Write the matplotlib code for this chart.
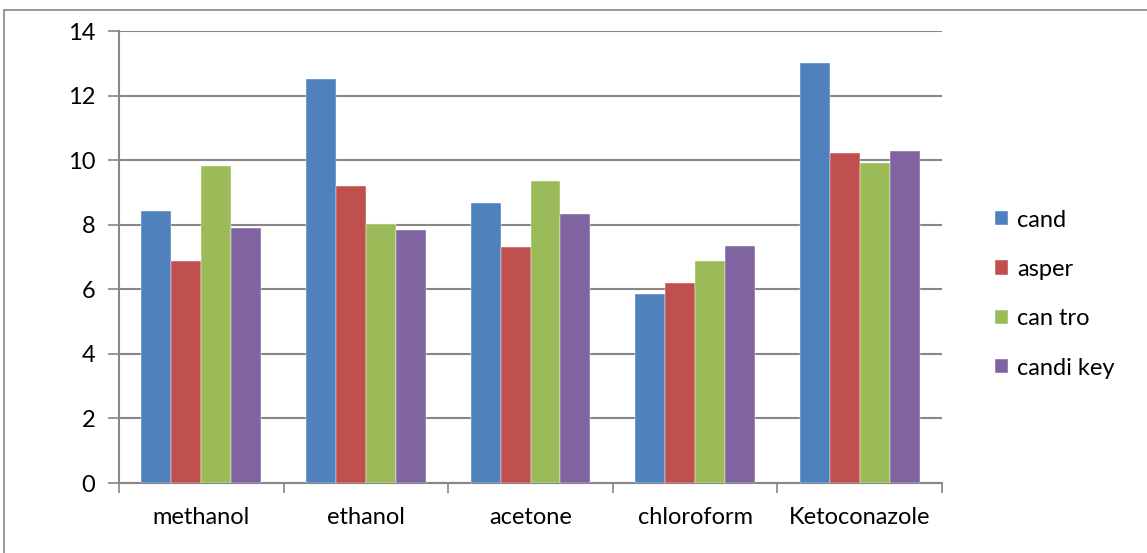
import numpy as np
import matplotlib.pyplot as plt
from matplotlib.patches import Rectangle

plt.rcParams['font.family'] = ['Lato', 'DejaVu Sans']

solvents = ['methanol', 'ethanol', 'acetone', 'chloroform', 'Ketoconazole']
cand = [8.42, 12.52, 8.66, 5.84, 13.0]
asper = [6.87, 9.20, 7.31, 6.21, 10.22]
can_tro = [9.81, 8.02, 9.34, 6.89, 9.90]
candi_key = [7.89, 7.84, 8.33, 7.35, 10.29]

series = [('cand', cand, '#4f81bd'), ('asper', asper, '#c0504d'),
          ('can tro', can_tro, '#9bbb59'), ('candi key', candi_key, '#8064a2')]

fig = plt.figure(figsize=(11.47, 5.53), dpi=100)
ax = fig.add_axes([119/1147, 1 - 483/553, (942-119)/1147, (483-31)/553])

# outer chart frame
fig.patches.append(Rectangle((4/1147, -0.1), 1.2, 1 - 10/553 + 0.1, transform=fig.transFigure,
                             fill=False, edgecolor='#868686', linewidth=1.2))

x = np.arange(len(solvents))
w = 0.182
for i, (name, vals, col) in enumerate(series):
    ax.bar(x + (i - 1.5) * w, vals, w, color=col, label=name, zorder=3,
           edgecolor='white', linewidth=0.3)

ax.set_xlim(-0.5, len(solvents) - 0.5)
ax.set_ylim(0, 14)
ax.set_yticks(range(0, 15, 2))
ax.set_xticks(x)
ax.set_xticklabels(solvents)
ax.set_xticks(np.arange(-0.5, len(solvents)), minor=True)
ax.tick_params(axis='x', which='major', length=0, pad=17, labelsize=17)
ax.tick_params(axis='x', which='minor', length=7, width=1.2, color='#868686')
ax.tick_params(axis='y', length=8, width=1.2, color='#868686', labelsize=17, pad=9)
ax.grid(axis='y', color='#868686', linewidth=1.5, zorder=0)

for s in ['top', 'right']:
    ax.spines[s].set_visible(False)
for s in ['left', 'bottom']:
    ax.spines[s].set_color('#868686')
    ax.spines[s].set_linewidth(1.5)

ax.legend(loc='center left', bbox_to_anchor=(1.038, 0.418), frameon=False, fontsize=17,
          handlelength=0.55, handleheight=0.55, handletextpad=0.4, labelspacing=1.2)

fig.savefig('out.png', dpi=100)
